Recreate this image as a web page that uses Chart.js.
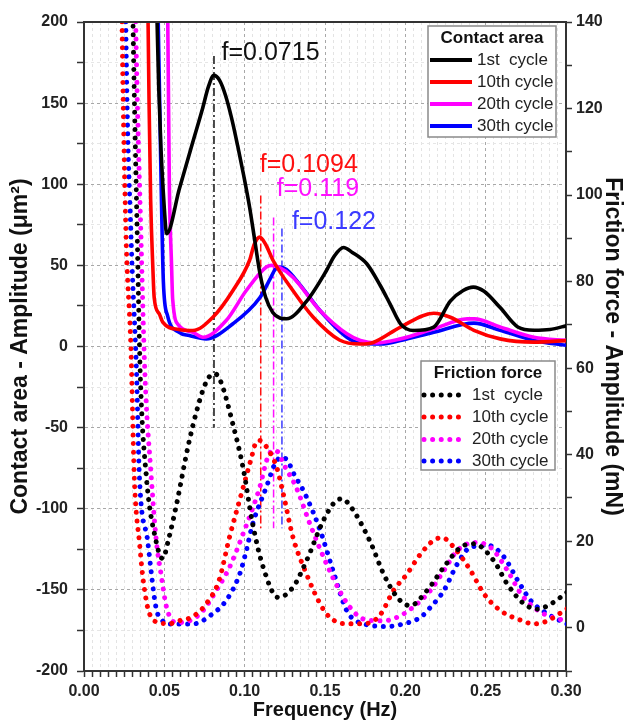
<!DOCTYPE html>
<html><head><meta charset="utf-8">
<script src="https://cdn.jsdelivr.net/npm/chart.js@4.4.0/dist/chart.umd.min.js"></script>
<style>html,body{margin:0;padding:0;background:#fff}</style>
</head><body>
<canvas id="c" width="628" height="723"></canvas>
<script>
const FONT = '"Liberation Sans", Arial, sans-serif';
const cycleLabels = ['1st  cycle', '10th cycle', '20th cycle', '30th cycle'];
const cycleColors = ['#000000', '#ff0000', '#ff00ff', '#0000ff'];

// Contact area amplitude (µm²) vs frequency (Hz)
const area1 = [[0.0445,240],[0.0465,160],[0.0479,122],[0.050,85],[0.0514,69.5],[0.0594,97.4],[0.0675,125.2],[0.0738,146.7],[0.0775,160.3],[0.0808,167.1],[0.0844,164],[0.0881,154.7],[0.0919,140.6],[0.0956,123.9],[0.0994,105.4],[0.1031,85.7],[0.1063,65.3],[0.1094,45.6],[0.1131,30.2],[0.1175,21],[0.1219,17.6],[0.1261,17.1],[0.1386,28],[0.151,47],[0.156,56],[0.1615,61],[0.167,58],[0.176,51],[0.1844,37.6],[0.1906,26],[0.197,14],[0.205,9.9],[0.2177,12],[0.228,28],[0.236,34.5],[0.2423,36.6],[0.249,34],[0.259,24],[0.27,12],[0.28,10],[0.29,10.5],[0.301,13]];
const area10 = [[0.0394,240],[0.0405,150],[0.0415,90],[0.0428,50],[0.0437,30],[0.0469,20],[0.049,15],[0.059,10.5],[0.0677,9.9],[0.0802,18],[0.0927,34.5],[0.103,53],[0.106,63],[0.1094,67.4],[0.113,63],[0.1177,53],[0.130,34.5],[0.1427,18],[0.159,4],[0.172,1.5],[0.18,2.5],[0.197,12],[0.2177,20.5],[0.228,18],[0.2427,10],[0.259,4.7],[0.28,2.7],[0.301,3.7]];
const area20 = [[0.0518,240],[0.0531,101],[0.0545,50],[0.0552,29],[0.059,13],[0.0677,8.8],[0.074,5.7],[0.0885,16],[0.101,34.5],[0.1135,49],[0.117,50],[0.121,49],[0.130,42.7],[0.147,22],[0.1636,7.8],[0.172,3.7],[0.182,2.2],[0.197,4.7],[0.2177,10.9],[0.2385,17],[0.243,17],[0.259,12],[0.28,5.7],[0.301,3.7]];
const area30 = [[0.0455,240],[0.048,101],[0.0494,40],[0.052,19],[0.059,8.8],[0.0656,6.8],[0.076,4.7],[0.0927,14],[0.1094,30],[0.116,42],[0.119,47.5],[0.122,49],[0.126,47.5],[0.134,38.6],[0.147,22],[0.1636,5.7],[0.172,2],[0.185,1.5],[0.197,3.7],[0.2177,8.8],[0.2427,14.4],[0.259,10],[0.28,3.7],[0.301,0.6]];

// Friction force amplitude (mN) vs frequency (Hz)
const force1 = [[0.0303,145],[0.0306,137.5],[0.0331,91.2],[0.035,58.8],[0.0386,35.7],[0.0448,20.1],[0.0489,16],[0.053,21],[0.0573,28],[0.0656,43.3],[0.074,54.9],[0.078,58],[0.0815,58.7],[0.085,57],[0.0927,47],[0.099,37],[0.105,24],[0.1115,14],[0.1208,7],[0.130,9.3],[0.1385,15.5],[0.149,24.8],[0.156,29],[0.1604,29.8],[0.165,28.5],[0.178,20],[0.1865,12.4],[0.195,7],[0.203,5.1],[0.2135,8.6],[0.224,14],[0.2344,18.6],[0.2427,19.4],[0.255,15.5],[0.2636,10],[0.274,5.5],[0.282,4.3],[0.2906,5.5],[0.301,8.3]];
const force10 = [[0.0234,150],[0.02375,137.5],[0.0261,91.2],[0.0292,64.6],[0.0312,35.7],[0.0323,27.8],[0.0344,20.1],[0.0364,12.4],[0.0396,4.7],[0.0427,2.0],[0.0469,1.2],[0.053,0.9],[0.059,1.6],[0.0656,2.2],[0.071,3.5],[0.076,5.5],[0.084,10.9],[0.0906,21],[0.098,31],[0.104,39],[0.107,42.8],[0.1094,43.3],[0.112,42.5],[0.115,41],[0.12,37],[0.124,31],[0.130,21],[0.1385,12.4],[0.147,5.5],[0.153,2.4],[0.1635,0.9],[0.174,0.9],[0.184,2.8],[0.1927,8.6],[0.201,12.4],[0.2094,17],[0.218,20.3],[0.223,20.8],[0.2302,18.6],[0.2406,13.2],[0.249,7.8],[0.2594,3.9],[0.27,2],[0.28,0.9],[0.2885,1.6],[0.301,4.5]];
const force20 = [[0.0318,150],[0.0323,137.5],[0.0354,91.2],[0.0379,58.8],[0.0417,35.7],[0.045,20.1],[0.0479,12.5],[0.0514,4.7],[0.0573,1.2],[0.0656,1.6],[0.074,3.9],[0.0823,8.6],[0.0906,14],[0.099,21.7],[0.1094,32.5],[0.114,39],[0.1177,41],[0.121,40.5],[0.124,38],[0.132,32.5],[0.1406,24],[0.151,14.7],[0.159,8.6],[0.1656,4.7],[0.174,2],[0.1865,1.6],[0.197,2.8],[0.2073,5.5],[0.2156,8.6],[0.224,13.2],[0.2323,17.8],[0.2427,19.7],[0.253,18.6],[0.2636,13.2],[0.272,7.8],[0.28,4.7],[0.2885,2.8],[0.301,1.5]];
const force30 = [[0.0258,150],[0.0261,137.5],[0.0292,91.2],[0.0327,58.8],[0.0344,35.7],[0.0396,20.1],[0.0448,4.7],[0.0489,1.6],[0.052,0.86],[0.059,0.86],[0.0677,0.86],[0.080,3.2],[0.0885,6.3],[0.097,12.5],[0.101,17.8],[0.105,24],[0.1135,32.5],[0.119,38],[0.123,39.4],[0.127,38.5],[0.130,36],[0.1375,31],[0.147,22.5],[0.155,13.2],[0.1636,3.9],[0.174,0.9],[0.1885,0.3],[0.199,0.9],[0.2094,2.4],[0.2156,4.7],[0.224,8.6],[0.2323,14.7],[0.2406,18.6],[0.252,19],[0.2615,16.3],[0.27,10.9],[0.278,6.3],[0.2885,3.2],[0.301,0.8]];

// Peak markers (dash-dot lines) and their labels
const peakLabels = ['f=0.0715', 'f=0.1094', 'f=0.119', 'f=0.122'];
const peakLineX = [0.0809, 0.110, 0.118, 0.1232];
const peakLineTop = [179, 93, 79.5, 72.7];
const peakLineBottom = [-50, -112, -112, -112];
const peakLabelX = [0.0856, 0.1094, 0.120, 0.1294];
const peakLabelY = [181, 111.5, 96.8, 76.4];
const peakColors = ['#111111', '#ff1010', '#ff10ff', '#3a3aff'];

const areaSets = [area1, area10, area20, area30];
const forceSets = [force1, force10, force20, force30];
const toXY = a => a.map(p => ({x: p[0], y: p[1]}));
const isMult = (v, m) => Math.abs(v / m - Math.round(v / m)) < 1e-6;

const datasets = [];
areaSets.forEach((d, i) => datasets.push({
  label: 'Contact area ' + cycleLabels[i], data: toXY(d), yAxisID: 'y',
  borderColor: cycleColors[i], borderWidth: 3.6, pointRadius: 0,
  cubicInterpolationMode: 'monotone', fill: false
}));
forceSets.forEach((d, i) => datasets.push({
  label: 'Friction force ' + cycleLabels[i], data: toXY(d), yAxisID: 'y2',
  borderColor: cycleColors[i], borderWidth: 5, pointRadius: 0,
  borderDash: [0.01, 8.6], borderCapStyle: 'round',
  cubicInterpolationMode: 'monotone', fill: false
}));
peakLineX.forEach((x, i) => datasets.push({
  label: peakLabels[i], data: [{x: x, y: peakLineTop[i]}, {x: x, y: peakLineBottom[i]}], yAxisID: 'y',
  borderColor: peakColors[i], borderWidth: 1.5, pointRadius: 0, borderDash: [8, 3, 2, 3], fill: false
}));

const framePlugin = {
  id: 'frame',
  afterDraw(chart) {
    const {ctx, chartArea: a} = chart;
    ctx.save();
    ctx.strokeStyle = '#333'; ctx.lineWidth = 2;
    ctx.beginPath(); ctx.moveTo(a.left - 1, a.top); ctx.lineTo(a.right + 1, a.top); ctx.stroke();
    ctx.restore();
  }
};

const labelPlugin = {
  id: 'peakLabels',
  afterDatasetsDraw(chart) {
    const {ctx, scales} = chart;
    ctx.save();
    ctx.font = '25px ' + FONT;
    ctx.textAlign = 'left'; ctx.textBaseline = 'middle';
    peakLabels.forEach((t, i) => {
      ctx.fillStyle = peakColors[i];
      ctx.fillText(t, scales.x.getPixelForValue(peakLabelX[i]), scales.y.getPixelForValue(peakLabelY[i]));
    });
    ctx.restore();
  }
};

const legendPlugin = {
  id: 'twoLegends',
  afterDraw(chart) {
    const ctx = chart.ctx;
    const box = (bx, by, bw, bh, title, rows, dotted) => {
      ctx.save();
      ctx.fillStyle = '#fff'; ctx.fillRect(bx, by, bw, bh);
      ctx.strokeStyle = '#8a8a8a'; ctx.lineWidth = 1.5; ctx.strokeRect(bx, by, bw, bh);
      ctx.fillStyle = '#111'; ctx.textBaseline = 'middle';
      ctx.font = 'bold 17px ' + FONT; ctx.textAlign = 'center';
      ctx.fillText(title, bx + bw / 2, by + 12);
      ctx.font = '17px ' + FONT; ctx.textAlign = 'left';
      rows.forEach((ry, i) => {
        const y = by + ry;
        ctx.strokeStyle = cycleColors[i];
        ctx.beginPath();
        if (dotted) {
          ctx.lineWidth = 5; ctx.lineCap = 'round'; ctx.setLineDash([0.01, 8.6]);
          ctx.moveTo(bx + 3, y); ctx.lineTo(bx + 40, y);
        } else {
          ctx.lineWidth = 4; ctx.lineCap = 'butt'; ctx.setLineDash([]);
          ctx.moveTo(bx + 2, y); ctx.lineTo(bx + 44, y);
        }
        ctx.stroke();
        ctx.fillStyle = '#222';
        ctx.fillText(cycleLabels[i], dotted ? bx + 51 : bx + 49, y);
      });
      ctx.restore();
    };
    box(428, 26, 128, 111, 'Contact area', [34, 56, 78, 100], false);
    box(421, 361, 134, 109, 'Friction force', [34, 56, 78.5, 100], true);
  }
};

const tickFont = {family: FONT, size: 16, weight: 'bold'};
const titleFont = {family: FONT, size: 20, weight: 'bold'};
const sideTitleFont = {family: FONT, size: 23, weight: 'bold'};

new Chart(document.getElementById('c'), {
  type: 'line',
  data: {datasets},
  plugins: [framePlugin, labelPlugin, legendPlugin],
  options: {
    responsive: false, animation: false,
    layout: {padding: {top: 22, left: 0, right: 0, bottom: 0}},
    plugins: {legend: {display: false}, tooltip: {enabled: false}},
    scales: {
      x: {
        type: 'linear', min: 0, max: 0.3,
        afterFit: s => { s.height = 52; },
        ticks: {stepSize: 0.005, autoSkip: false, maxRotation: 0, minRotation: 0, padding: 5, color: '#222', font: tickFont,
          callback: v => isMult(v, 0.05) ? v.toFixed(2) : ''},
        grid: {color: c => (c.tick && isMult(c.tick.value, 0.05)) ? '#a8a8a8' : '#e3e3e3', lineWidth: 1, tickLength: 6, tickColor: '#333', tickWidth: 1.5},
        border: {color: '#333', width: 2, dash: [3, 3]},
        title: {display: true, text: 'Frequency (Hz)', color: '#111', font: titleFont, padding: {top: 0, bottom: 1}}
      },
      y: {
        type: 'linear', position: 'left', min: -200, max: 200,
        afterFit: s => { s.width = 84; },
        ticks: {stepSize: 25, autoSkip: false, padding: 9, color: '#222', font: tickFont,
          callback: v => isMult(v, 50) ? String(v) : ''},
        grid: {color: c => (c.tick && isMult(c.tick.value, 50)) ? '#a8a8a8' : '#e6e6e6', lineWidth: 1, tickLength: 7, tickColor: '#333', tickWidth: 1.5},
        border: {color: '#333', width: 2, dash: [3, 3]},
        title: {display: true, text: 'Contact area - Amplitude (μm²)', color: '#111', font: sideTitleFont, padding: {top: 7, bottom: 0}}
      },
      y2: {
        type: 'linear', position: 'right', min: -10, max: 140,
        afterFit: s => { s.width = 62; },
        ticks: {stepSize: 10, autoSkip: false, padding: 4, color: '#222', font: tickFont,
          callback: v => (v >= 0 && isMult(v, 20)) ? String(v) : ''},
        grid: {drawOnChartArea: false, tickLength: 6, tickColor: '#333', tickWidth: 1.5},
        border: {color: '#333', width: 2},
        title: {display: true, text: 'Friction force - Amplitude (mN)', color: '#111', font: sideTitleFont, padding: {top: 2, bottom: 0}}
      }
    }
  }
});
</script>
</body></html>
